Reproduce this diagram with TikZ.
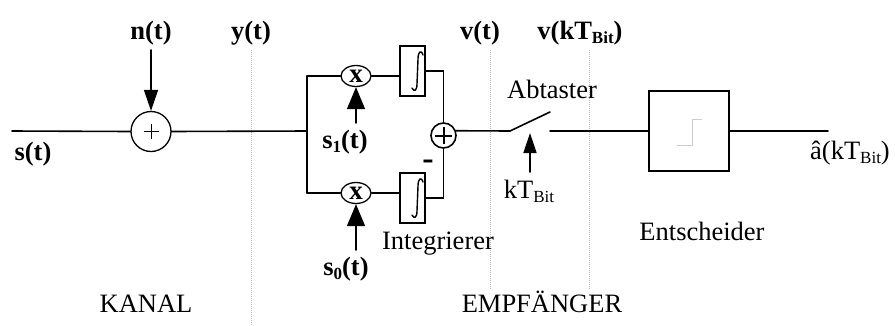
\documentclass[tikz,border=0pt]{standalone}
\usepackage{fontspec}
\setmainfont{Liberation Serif}
\usetikzlibrary{arrows.meta,shapes.geometric}
\newcommand\subtxt[1]{\raisebox{-0.18em}{\fontsize{17}{20}\selectfont #1}}
\begin{document}
\begin{tikzpicture}[x=1pt,y=-1pt,
  lbl/.style={font=\fontsize{26.5}{30}\selectfont\bfseries, anchor=base, inner sep=0pt},
  txt/.style={font=\fontsize{26.5}{30}\selectfont, anchor=base, inner sep=0pt},
  wire/.style={line width=1.6pt, line cap=round},
  sepline/.style={gray!55, line width=0.9pt, dash pattern=on 1pt off 1pt},
  bigarrow/.style={wire, -{Triangle[length=22pt,width=18pt]}},
  midarrow/.style={wire, -{Triangle[length=21pt,width=14pt]}},
  sumA/.style={circle, draw, line width=1.3pt, minimum size=40pt, inner sep=0pt,
    path picture={\draw[line width=1pt] (path picture bounding box.center) +(-7.5,0) -- +(7.5,0)
      (path picture bounding box.center) +(0,-7.5) -- +(0,7.5);}},
  sumB/.style={circle, draw, line width=1.6pt, minimum size=25pt, inner sep=0pt,
    path picture={\draw[line width=2pt] (path picture bounding box.center) +(-8.5,0) -- +(8.5,0)
      (path picture bounding box.center) +(0,-8.5) -- +(0,8.5);}},
  mult/.style={ellipse, draw, line width=1.3pt, minimum width=30pt, minimum height=21pt, inner sep=0pt,
    font=\fontsize{27}{28}\selectfont\bfseries},
  intbox/.style={rectangle, draw, line width=1.3pt, minimum width=25pt, minimum height=50pt, inner sep=0pt},
  decbox/.style={rectangle, draw, line width=2pt, minimum width=80pt, minimum height=80pt, inner sep=0pt}
]
\useasboundingbox (0,0) rectangle (895,325);

% separators
\draw[sepline] (251,50) -- (251,325);
\draw[sepline] (490,50) -- (490,290);
\draw[sepline] (589,50) -- (589,290);

% nodes
\node[sumA] (s1) at (151,131.5) {};
\node[mult] (m1) at (356,76) {\raisebox{-1pt}{x}};
\node[mult] (m0) at (356,193) {\raisebox{-1pt}{x}};
\node[intbox] (i1) at (412.5,71) {};
\node[intbox] (i0) at (412.5,198) {};
\node[sumB] (s2) at (443.5,135.5) {};
\node[decbox] (dec) at (689,131) {};

% integral signs
\foreach \yc in {71,198}{
  \draw[line width=1.4pt, line cap=round] (423,\yc-16) .. controls (421,\yc-22) and (418,\yc-19) .. (418,\yc-12)
     -- (417,\yc+13) .. controls (417,\yc+20) and (414,\yc+21) .. (412,\yc+17);
}
% step in decision box
\draw[gray!40, line width=1pt] (677,145) -- (692,145) -- (692,119) -- (702,119);

% coordinates
\coordinate (sin) at (12,131);
\coordinate (br) at (307,131);
\coordinate (brT) at (307,76);
\coordinate (brB) at (307,193);
\coordinate (sw1) at (510,131);
\coordinate (sw2) at (550,112);
\coordinate (sw3) at (550,131);
\coordinate (out) at (828,131);
\coordinate (nsrc) at (151,50);
\coordinate (a1) at (356,123);
\coordinate (a0) at (356,250);
\coordinate (kt) at (530,172);
\coordinate (kttip) at (530,133);

% wires
\draw[wire] (sin) -- (s1.west);
\draw[wire] (s1.east) -- (br);
\draw[wire] (brT) -- (brB);
\draw[wire] (brT) -- (m1.west);
\draw[wire] (brB) -- (m0.west);
\draw[wire] (m1.east) -- (m1.east -| i1.west);
\draw[wire] (m0.east) -- (m0.east -| i0.west);
\draw[wire] (i1.east) -| (s2.north);
\draw[wire] (i0.east) -| (s2.south);
\draw[wire] (s2.21) -- (sw1) -- (sw2);
\draw[wire] (sw3) -- (dec.west);
\draw[wire] (dec.east) -- (out);

% arrows
\draw[midarrow] (nsrc) -- (s1.north);
\draw[bigarrow] (a1) -- (m1.south);
\draw[bigarrow] (a0) -- (m0.south);
\draw[midarrow, -{Triangle[length=20pt,width=13pt]}] (kt) -- (kttip);

% labels
\node[lbl] (ln) at (151,39) {n(t)};
\node[lbl] (ly) at (251,39) {y(t)};
\node[lbl] (lv) at (480,39) {v(t)};
\node[lbl] (lvk) at (580,39) {v(kT\subtxt{Bit})};
\node[lbl] (ls) at (33,160) {s(t)};
\node[lbl] (ls1) at (345,148) {s\subtxt{1}(t)};
\node[lbl] (ls0) at (346,275) {s\subtxt{0}(t)};
\node[lbl, font=\fontsize{34}{36}\selectfont\bfseries] (lminus) at (428,169) {-};
\node[txt] (lkanal) at (146,312) {KANAL};
\node[txt] (lemp) at (542,312) {EMPFÄNGER};
\node[txt] (labt) at (552,98) {Abtaster};
\node[txt] (lkt) at (529,198) {kT\subtxt{Bit}};
\node[txt] (lint) at (438,249) {Integrierer};
\node[txt] (lent) at (702,240) {Entscheider};
\node[txt] (lout) at (850,159) {â(kT\subtxt{Bit})};
\end{tikzpicture}
\end{document}
